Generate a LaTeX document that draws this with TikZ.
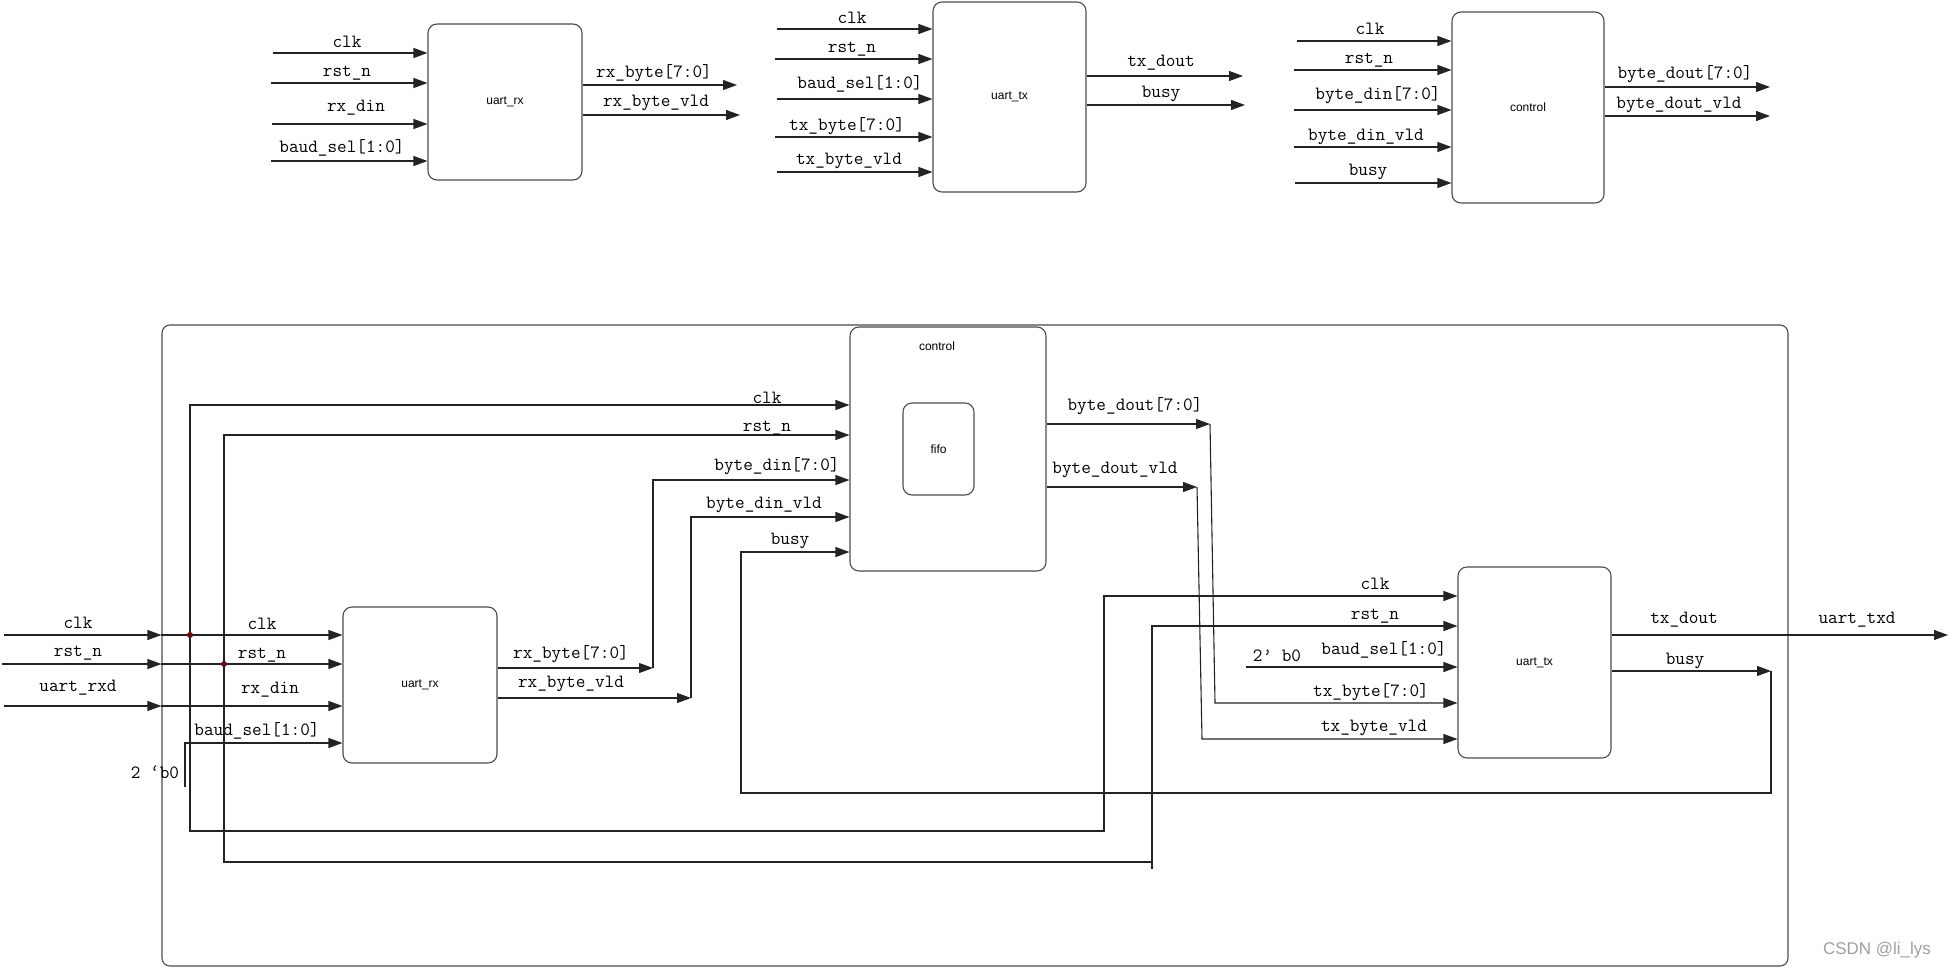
\documentclass[tikz,border=0pt]{standalone}
\usepackage{fontspec}
\usetikzlibrary{arrows.meta}
\newfontfamily\sigfont{Latin Modern Mono}
\newfontfamily\blkfont{Liberation Sans}
\definecolor{ln}{RGB}{35,35,35}
\definecolor{bx}{RGB}{75,75,75}
\definecolor{dotc}{RGB}{110,10,10}
\definecolor{wm}{RGB}{160,160,160}
\begin{document}
\begin{tikzpicture}[x=1pt,y=-1pt,
  sig/.style={draw=ln,line width=1.1pt},
  arr/.style={sig,-{Triangle[length=14pt,width=10pt]}},
  blk/.style={draw=bx,line width=1.1pt,rounded corners=9pt,inner sep=0pt,
    font=\blkfont\fontsize{12}{12}\selectfont},
  lbl/.style={font=\sigfont\fontsize{18.7}{18.7}\selectfont,inner sep=0pt,text=black},
  bname/.style={font=\blkfont\fontsize{12}{12}\selectfont,inner sep=0pt},
  jdot/.style={circle,fill=dotc,inner sep=0pt,minimum size=6pt}]
\useasboundingbox (0,0) rectangle (1950,969);

% ---------------- top row blocks ----------------
\node[blk,minimum width=154pt,minimum height=156pt] (rxT) at (505,102) {uart\_rx};
\node[blk,minimum width=153pt,minimum height=190pt] (txT) at (1009.5,97) {uart\_tx};
\node[blk,minimum width=152pt,minimum height=191pt] (ctT) at (1528,107.5) {control};

% top uart_rx inputs
\coordinate (ri1) at (273,53);  \draw[arr] (ri1) -- (ri1 -| rxT.west);
\coordinate (ri2) at (271,83);  \draw[arr] (ri2) -- (ri2 -| rxT.west);
\coordinate (ri3) at (272,124); \draw[arr] (ri3) -- (ri3 -| rxT.west);
\coordinate (ri4) at (271,161); \draw[arr] (ri4) -- (ri4 -| rxT.west);
\node[lbl] (lri1) at (347,42) {clk};
\node[lbl] (lri2) at (347,73) {rst\_n};
\node[lbl] (lri3) at (356,108) {rx\_din};
\node[lbl] (lri4) at (342,148) {baud\_sel[1:0]};
% top uart_rx outputs
\coordinate (ro1) at (737,85);  \draw[arr] (ro1 -| rxT.east) -- (ro1);
\coordinate (ro2) at (740,115); \draw[arr] (ro2 -| rxT.east) -- (ro2);
\node[lbl] (lro1) at (654,73) {rx\_byte[7:0]};
\node[lbl] (lro2) at (656,103) {rx\_byte\_vld};

% top uart_tx inputs
\coordinate (ti1) at (777,29);  \draw[arr] (ti1) -- (ti1 -| txT.west);
\coordinate (ti2) at (775,59);  \draw[arr] (ti2) -- (ti2 -| txT.west);
\coordinate (ti3) at (777,99);  \draw[arr] (ti3) -- (ti3 -| txT.west);
\coordinate (ti4) at (775,137); \draw[arr] (ti4) -- (ti4 -| txT.west);
\coordinate (ti5) at (777,172); \draw[arr] (ti5) -- (ti5 -| txT.west);
\node[lbl] (lti1) at (852,18) {clk};
\node[lbl] (lti2) at (852,49) {rst\_n};
\node[lbl] (lti3) at (860,84) {baud\_sel[1:0]};
\node[lbl] (lti4) at (847,126) {tx\_byte[7:0]};
\node[lbl] (lti5) at (849,161) {tx\_byte\_vld};
% top uart_tx outputs
\coordinate (to1) at (1243,76);  \draw[arr] (to1 -| txT.east) -- (to1);
\coordinate (to2) at (1245,105); \draw[arr] (to2 -| txT.east) -- (to2);
\node[lbl] (lto1) at (1161,63) {tx\_dout};
\node[lbl] (lto2) at (1161,94) {busy};

% top control inputs
\coordinate (ci1) at (1297,41);  \draw[arr] (ci1) -- (ci1 -| ctT.west);
\coordinate (ci2) at (1294,70);  \draw[arr] (ci2) -- (ci2 -| ctT.west);
\coordinate (ci3) at (1294,110); \draw[arr] (ci3) -- (ci3 -| ctT.west);
\coordinate (ci4) at (1294,147); \draw[arr] (ci4) -- (ci4 -| ctT.west);
\coordinate (ci5) at (1295,183); \draw[arr] (ci5) -- (ci5 -| ctT.west);
\node[lbl] (lci1) at (1370,29) {clk};
\node[lbl] (lci2) at (1369,60) {rst\_n};
\node[lbl] (lci3) at (1378,95) {byte\_din[7:0]};
\node[lbl] (lci4) at (1366,137) {byte\_din\_vld};
\node[lbl] (lci5) at (1368,172) {busy};
% top control outputs
\coordinate (co1) at (1770,87);  \draw[arr] (co1 -| ctT.east) -- (co1);
\coordinate (co2) at (1770,116); \draw[arr] (co2 -| ctT.east) -- (co2);
\node[lbl] (lco1) at (1685,74) {byte\_dout[7:0]};
\node[lbl] (lco2) at (1679,105) {byte\_dout\_vld};

% ---------------- bottom: top-level ----------------
\node[blk,rounded corners=8pt,minimum width=1626pt,minimum height=641pt] (top) at (975,645.5) {};
\node[blk,minimum width=196pt,minimum height=244pt] (ctB) at (948,449) {};
\node[bname] (ctBname) at (937,346) {control};
\node[blk,minimum width=71pt,minimum height=92pt] (fifo) at (938.5,449) {fifo};
\node[blk,minimum width=154pt,minimum height=156pt] (rxB) at (420,685) {uart\_rx};
\node[blk,minimum width=153pt,minimum height=191pt] (txB) at (1534.5,662.5) {uart\_tx};

% external inputs
\coordinate (e1) at (4,635);
\coordinate (e2) at (2,664);
\coordinate (e3) at (4,706);
\draw[arr] (e1) -- (e1 -| top.west);
\draw[arr] (e2) -- (e2 -| top.west);
\draw[arr] (e3) -- (e3 -| top.west);
\node[lbl] (le1) at (78,623) {clk};
\node[lbl] (le2) at (78,653) {rst\_n};
\node[lbl] (le3) at (78,688) {uart\_rxd};

% into uart_rx
\draw[arr] (e1 -| top.west) -- (e1 -| rxB.west);
\draw[arr] (e2 -| top.west) -- (e2 -| rxB.west);
\draw[arr] (e3 -| top.west) -- (e3 -| rxB.west);
\coordinate (b0) at (185,787);
\coordinate (b1) at (185,743);
\draw[arr] (b0) -- (b1) -- (b1 -| rxB.west);
\node[lbl] (lr1) at (262,624) {clk};
\node[lbl] (lr2) at (262,655) {rst\_n};
\node[lbl] (lr3) at (270,690) {rx\_din};
\node[lbl] (lr4) at (257,731) {baud\_sel[1:0]};
\node[lbl] (lr5) at (155,772) {2 ‘b0};

% clk / rst_n distribution
\coordinate (j1) at (190,635);
\coordinate (j2) at (224,664);
\coordinate (yc1) at (0,405);
\coordinate (yc2) at (0,435);
\coordinate (yt1) at (0,596);
\coordinate (yt2) at (0,626);
\coordinate (k1) at (190,831);
\coordinate (k2) at (1104,831);
\coordinate (m1) at (224,862);
\coordinate (m2) at (1152,862);
\coordinate (m3) at (1152,869);
\draw[arr] (j1) |- (ctB.west |- yc1);
\draw[arr] (j2) |- (ctB.west |- yc2);
\draw[arr] (j1) -- (k1) -- (k2) |- (txB.west |- yt1);
\draw[arr] (j2) -- (m1) -- (m2) |- (txB.west |- yt2);
\draw[sig] (m2) -- (m3);
\node[jdot] (d1) at (j1) {};
\node[jdot] (d2) at (j2) {};

% uart_rx outputs -> control
\coordinate (p1) at (653,668);
\coordinate (p2) at (691,698);
\coordinate (yc3) at (0,480);
\coordinate (yc4) at (0,517);
\draw[arr] (p1 -| rxB.east) -- (p1);
\draw[arr] (p2 -| rxB.east) -- (p2);
\draw[arr] (p1) |- (ctB.west |- yc3);
\draw[arr] (p2) |- (ctB.west |- yc4);
\node[lbl] (lp1) at (571,654) {rx\_byte[7:0]};
\node[lbl] (lp2) at (571,684) {rx\_byte\_vld};

% control labels
\node[lbl] (lc1) at (767,398) {clk};
\node[lbl] (lc2) at (767,428) {rst\_n};
\node[lbl] (lc3) at (777,466) {byte\_din[7:0]};
\node[lbl] (lc4) at (764,505) {byte\_din\_vld};
\node[lbl] (lc5) at (790,541) {busy};

% control outputs -> uart_tx
\coordinate (q1) at (1210,424);
\coordinate (q2) at (1197,487);
\coordinate (q1b) at (1215,703);
\coordinate (q2b) at (1202,739);
\draw[arr] (q1 -| ctB.east) -- (q1);
\draw[arr] (q2 -| ctB.east) -- (q2);
\draw[arr] (q1) -- (q1b) -- (q1b -| txB.west);
\draw[arr] (q2) -- (q2b) -- (q2b -| txB.west);
\node[lbl] (lq1) at (1135,406) {byte\_dout[7:0]};
\node[lbl] (lq2) at (1115,470) {byte\_dout\_vld};

% uart_tx inputs
\coordinate (g0) at (1246,667);
\draw[arr] (g0) -- (g0 -| txB.west);
\node[lbl] (lt1) at (1375,584) {clk};
\node[lbl] (lt2) at (1375,616) {rst\_n};
\node[lbl] (lt3) at (1384,650) {baud\_sel[1:0]};
\node[lbl] (lt0) at (1277,656) {2’ b0};
\node[lbl] (lt4) at (1371,692) {tx\_byte[7:0]};
\node[lbl] (lt5) at (1374,728) {tx\_byte\_vld};

% uart_tx outputs
\coordinate (u1) at (1948,635);
\draw[arr] (u1 -| txB.east) -- (u1);
\node[lbl] (lu1) at (1684,620) {tx\_dout};
\node[lbl] (lu2) at (1857,620) {uart\_txd};
\coordinate (s1) at (1771,671);
\coordinate (s2) at (1771,793);
\coordinate (s3) at (741,793);
\coordinate (yc5) at (0,552);
\draw[arr] (s1 -| txB.east) -- (s1);
\draw[arr] (s1) -- (s2) -- (s3) |- (ctB.west |- yc5);
\node[lbl] (ls1) at (1685,661) {busy};

% watermark
\node[font=\blkfont\fontsize{17}{17}\selectfont,text=wm,inner sep=0pt] (wmk) at (1877,950) {CSDN @li\_lys};
\end{tikzpicture}
\end{document}
